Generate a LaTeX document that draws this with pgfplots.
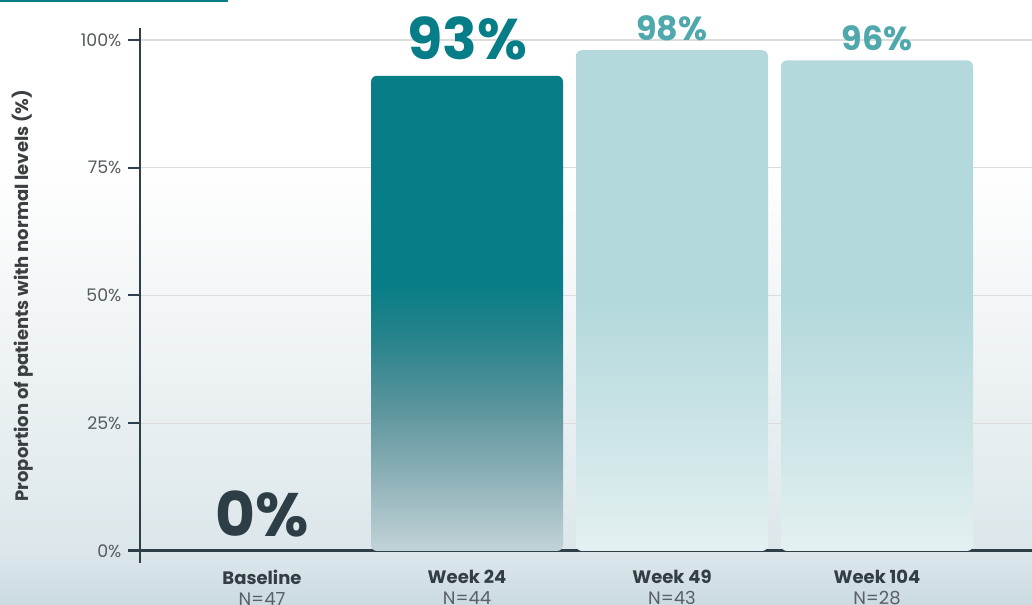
\documentclass[border=0pt]{standalone}
\usepackage{fontspec}
\setmainfont{Poppins}
\usepackage{pgfplots}
\pgfplotsset{compat=1.18}
\definecolor{tealc}{HTML}{077D87}
\definecolor{lightbar}{HTML}{B3D9DC}
\definecolor{lab98}{HTML}{4FA8AC}
\definecolor{darkc}{HTML}{2E3E46}
\definecolor{tickgray}{HTML}{555B60}
\definecolor{ylab}{HTML}{3B3F42}
\definecolor{gridc}{HTML}{DCDCDC}
\definecolor{axisdark}{HTML}{2E3F47}
\definecolor{tickc}{HTML}{2D3E50}
\definecolor{bgB}{HTML}{CBDBE1}
\definecolor{bgA}{HTML}{DCE7EB}
\definecolor{bgM}{HTML}{F3F6F7}
\definecolor{tA}{HTML}{C2D3D8}
\definecolor{tB}{HTML}{8CB0B7}
\definecolor{tC}{HTML}{5B959D}
\definecolor{tD}{HTML}{2A848C}
\definecolor{lA}{HTML}{E4F0F1}
\definecolor{lB}{HTML}{D0E6E8}
\definecolor{catc}{HTML}{333D45}
\definecolor{ngray}{HTML}{5A6066}
\pgfdeclareverticalshading{bgshade}{100bp}{color(0bp)=(bgB); color(25bp)=(bgB); color(29.5bp)=(bgA); color(50bp)=(bgM); color(62bp)=(white); color(100bp)=(white)}
\pgfdeclareverticalshading{tealshade}{100bp}{color(0bp)=(tA); color(25bp)=(tA); color(33bp)=(tB); color(40bp)=(tC); color(47bp)=(tD); color(53bp)=(tealc); color(100bp)=(tealc)}
\pgfdeclareverticalshading{lightshade}{100bp}{color(0bp)=(lA); color(25bp)=(lA); color(35bp)=(lB); color(50bp)=(lightbar); color(100bp)=(lightbar)}
\begin{document}
\begin{tikzpicture}
\useasboundingbox (0pt,0pt) rectangle (774pt,453.75pt);
\clip (0pt,0pt) rectangle (774pt,453.75pt);
\shade[shading=bgshade] (0pt,0pt) rectangle (774pt,453.75pt);
\fill[tealc] (0pt,452.25pt) rectangle (171pt,453.75pt);
\begin{axis}[
  at={(196.5pt,40.5pt)}, anchor=origin,
  x=153.75pt, y=3.8325pt,
  xmin=-0.595, xmax=3.9, ymin=0, ymax=100,
  clip=false,
  axis x line*=bottom, axis y line*=left,
  x axis line style={line width=2.25pt, color=axisdark, shorten <=-9pt, -},
  y axis line style={line width=1.9pt, color=axisdark, shorten <=-9pt, shorten >=-9pt, -},
  ytick={0,25,50,75,100},
  yticklabels={0\%,25\%,50\%,75\%,100\%},
  ytick style={line width=1.5pt, color=tickc},
  major tick length=9pt, tick align=outside,
  xtick={0,1,2,3}, xtick style={draw=none},
  xticklabels={{\textbf{\textcolor{catc}{Baseline}}\\\textcolor{ngray}{N=47}},
               {\textbf{\textcolor{catc}{Week 24}}\\\textcolor{ngray}{N=44}},
               {\textbf{\textcolor{catc}{Week 49}}\\\textcolor{ngray}{N=43}},
               {\textbf{\textcolor{catc}{Week 104}}\\\textcolor{ngray}{N=28}}},
  xticklabel style={align=center, font=\fontsize{13.5}{16}\selectfont, yshift=-1.5pt},
  yticklabel style={font=\fontsize{13}{14}\selectfont, color=tickgray, xshift=-1.5pt},
  /pgf/number format/assume math mode=true,
  ymajorgrids, grid style={color=gridc, line width=0.9pt},
]
\addplot[ybar, bar width=144pt, bar shift=0pt, draw=none, shade, shading=tealshade, rounded corners=4.5pt] coordinates {(1,93)};
\addplot[ybar, bar width=144pt, bar shift=0pt, draw=none, shade, shading=lightshade, rounded corners=4.5pt] coordinates {(2,98) (3,96)};
\node[font=\bfseries\fontsize{46}{46}\selectfont, color=darkc, anchor=base, yshift=10.5pt] at (axis cs:0,0) {0\%};
\node[font=\bfseries\fontsize{43}{43}\selectfont, color=tealc, anchor=base, yshift=12pt] at (axis cs:1,93) {93\%};
\node[font=\bfseries\fontsize{25}{25}\selectfont, color=lab98, anchor=base, yshift=7pt] at (axis cs:2,98) {98\%};
\node[font=\bfseries\fontsize{25}{25}\selectfont, color=lab98, anchor=base, yshift=7.5pt] at (axis cs:3,96) {96\%};
\end{axis}
\node[rotate=90, font=\bfseries\fontsize{13.5}{14}\selectfont, color=ylab] at (17pt,232pt) {Proportion of patients with normal levels (\%)};
\end{tikzpicture}
\end{document}
